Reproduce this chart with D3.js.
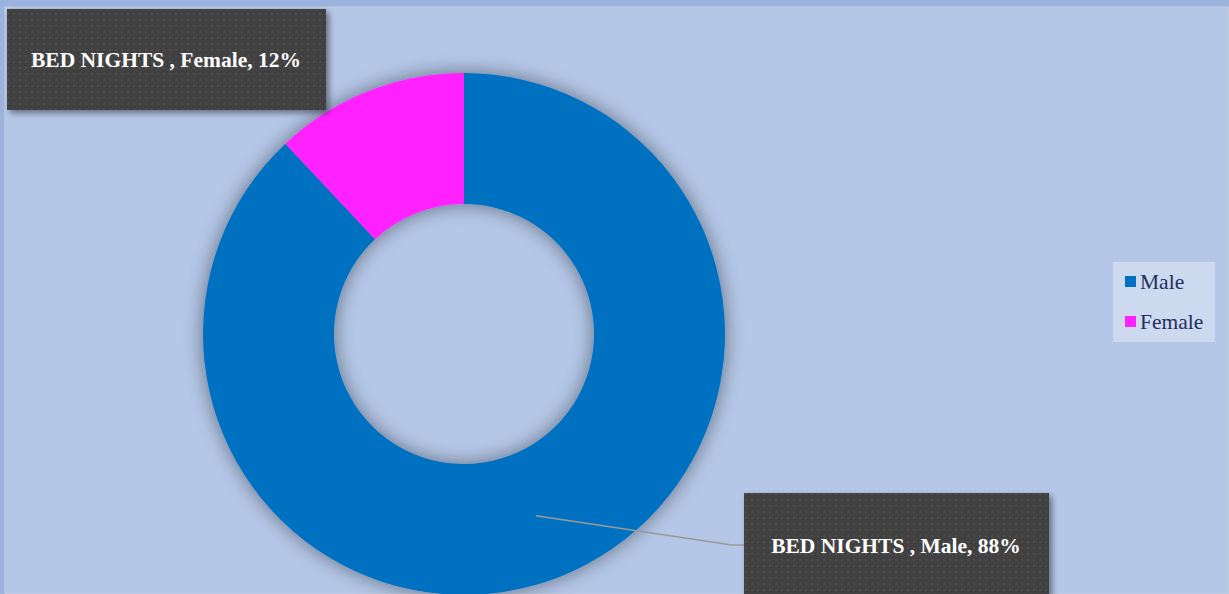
<!DOCTYPE html>
<html>
<meta charset="utf-8">
<title>Bed nights by gender</title>
<style>
body {
  margin: 0;
  background: #9bb3de;
  font-family: "Liberation Serif", "Times New Roman", serif;
}
svg {
  display: block;
}
.label text {
  fill: #fff;
  font-weight: bold;
  font-size: 21.5px;
}
.legend text {
  fill: #1f2f5e;
  font-size: 21.5px;
}
</style>
<body>
<div id="chart"></div>
<script src="https://d3js.org/d3.v7.min.js"></script>
<script>

// data
var categories = ["Male", "Female"];
var values = [88, 12];
var seriesName = "BED NIGHTS ";
var colors = ["#0070c0", "#ff22ff"];

var width = 1229,
  height = 594;

var svg = d3.select("#chart").append("svg")
  .attr("width", width)
  .attr("height", height);

var defs = svg.append("defs");

// soft glow around the ring
var glow = defs.append("filter")
  .attr("id", "glow")
  .attr("x", "-20%").attr("y", "-20%")
  .attr("width", "140%").attr("height", "140%");
glow.append("feGaussianBlur")
  .attr("in", "SourceAlpha")
  .attr("stdDeviation", 10);
glow.append("feComponentTransfer")
  .append("feFuncA").attr("type", "linear").attr("slope", 0.45);
var gm = glow.append("feMerge");
gm.append("feMergeNode");
gm.append("feMergeNode").attr("in", "SourceGraphic");

// box shadow for data labels
var boxShadow = defs.append("filter")
  .attr("id", "boxShadow")
  .attr("x", "-10%").attr("y", "-20%")
  .attr("width", "130%").attr("height", "150%");
boxShadow.append("feGaussianBlur")
  .attr("in", "SourceAlpha")
  .attr("stdDeviation", 3);
boxShadow.append("feOffset").attr("dx", 3).attr("dy", 3).attr("result", "off");
boxShadow.append("feComponentTransfer")
  .append("feFuncA").attr("type", "linear").attr("slope", 0.45);
var bm = boxShadow.append("feMerge");
bm.append("feMergeNode");
bm.append("feMergeNode").attr("in", "SourceGraphic");

// dotted fill of the label boxes
var pat = defs.append("pattern")
  .attr("id", "dots")
  .attr("width", 6).attr("height", 6)
  .attr("patternUnits", "userSpaceOnUse");
pat.append("rect").attr("width", 6).attr("height", 6).attr("fill", "#3f3f3f");
pat.append("rect").attr("x", 1).attr("y", 1).attr("width", 2).attr("height", 2).attr("fill", "#4f4f4f");
pat.append("rect").attr("x", 4).attr("y", 4).attr("width", 1).attr("height", 1).attr("fill", "#484848");

// chart area
svg.append("rect")
  .attr("x", 5).attr("y", 7)
  .attr("width", width - 5).attr("height", height - 7)
  .attr("fill", "#b4c7e7")
  .attr("stroke", "#c8cfdc")
  .attr("stroke-width", 1);

var cx = 464, cy = 334,
  outerR = 261, innerR = 130;

var pie = d3.pie().sort(null).value(function(d) { return d.value; });
var arc = d3.arc().innerRadius(innerR).outerRadius(outerR);

var data = categories.map(function(c, i) {
  return { name: c, value: values[i], color: colors[i] };
});
var arcs = pie(data);
var total = d3.sum(values);

var ring = svg.append("g")
  .attr("transform", "translate(" + cx + "," + cy + ")")
  .attr("filter", "url(#glow)");

ring.selectAll("path")
  .data(arcs)
  .enter().append("path")
  .attr("d", arc)
  .attr("fill", function(d) { return d.data.color; });

// leader line for Male label starts at the slice centroid
var malePt = arc.centroid(arcs[0]);
var lineStart = [cx + malePt[0], cy + malePt[1]];

// data label boxes
var labelBoxes = [
  { i: 1, x: 7, y: 9, w: 319, h: 101, tx: 166, ty: 67 },
  { i: 0, x: 744, y: 493, w: 305, h: 110, tx: 896, ty: 553 }
];

svg.append("path")
  .attr("d", d3.line()([lineStart, [732, 545], [744, 545]]))
  .attr("fill", "none")
  .attr("stroke", "#9a9a9a")
  .attr("stroke-width", 1.5);

var label = svg.selectAll(".label")
  .data(labelBoxes)
  .enter().append("g")
  .attr("class", "label");

label.append("rect")
  .attr("x", function(d) { return d.x; })
  .attr("y", function(d) { return d.y; })
  .attr("width", function(d) { return d.w; })
  .attr("height", function(d) { return d.h; })
  .attr("fill", "url(#dots)")
  .attr("filter", "url(#boxShadow)");

label.append("text")
  .attr("x", function(d) { return d.tx; })
  .attr("y", function(d) { return d.ty; })
  .attr("text-anchor", "middle")
  .text(function(d) {
    var a = arcs[d.i];
    return seriesName + ", " + a.data.name + ", " + Math.round(a.data.value / total * 100) + "%";
  });

// legend
var legend = svg.append("g").attr("class", "legend");
legend.append("rect")
  .attr("x", 1113).attr("y", 262)
  .attr("width", 102).attr("height", 80)
  .attr("fill", "#cdd9ee");

var item = legend.selectAll(".item")
  .data(data)
  .enter().append("g")
  .attr("class", "item")
  .attr("transform", function(d, i) { return "translate(1125," + (276 + i * 40) + ")"; });

item.append("rect")
  .attr("width", 11).attr("height", 11)
  .attr("fill", function(d) { return d.color; });

item.append("text")
  .attr("x", 15)
  .attr("y", 13)
  .text(function(d) { return d.name; });

</script>
</body>
</html>
